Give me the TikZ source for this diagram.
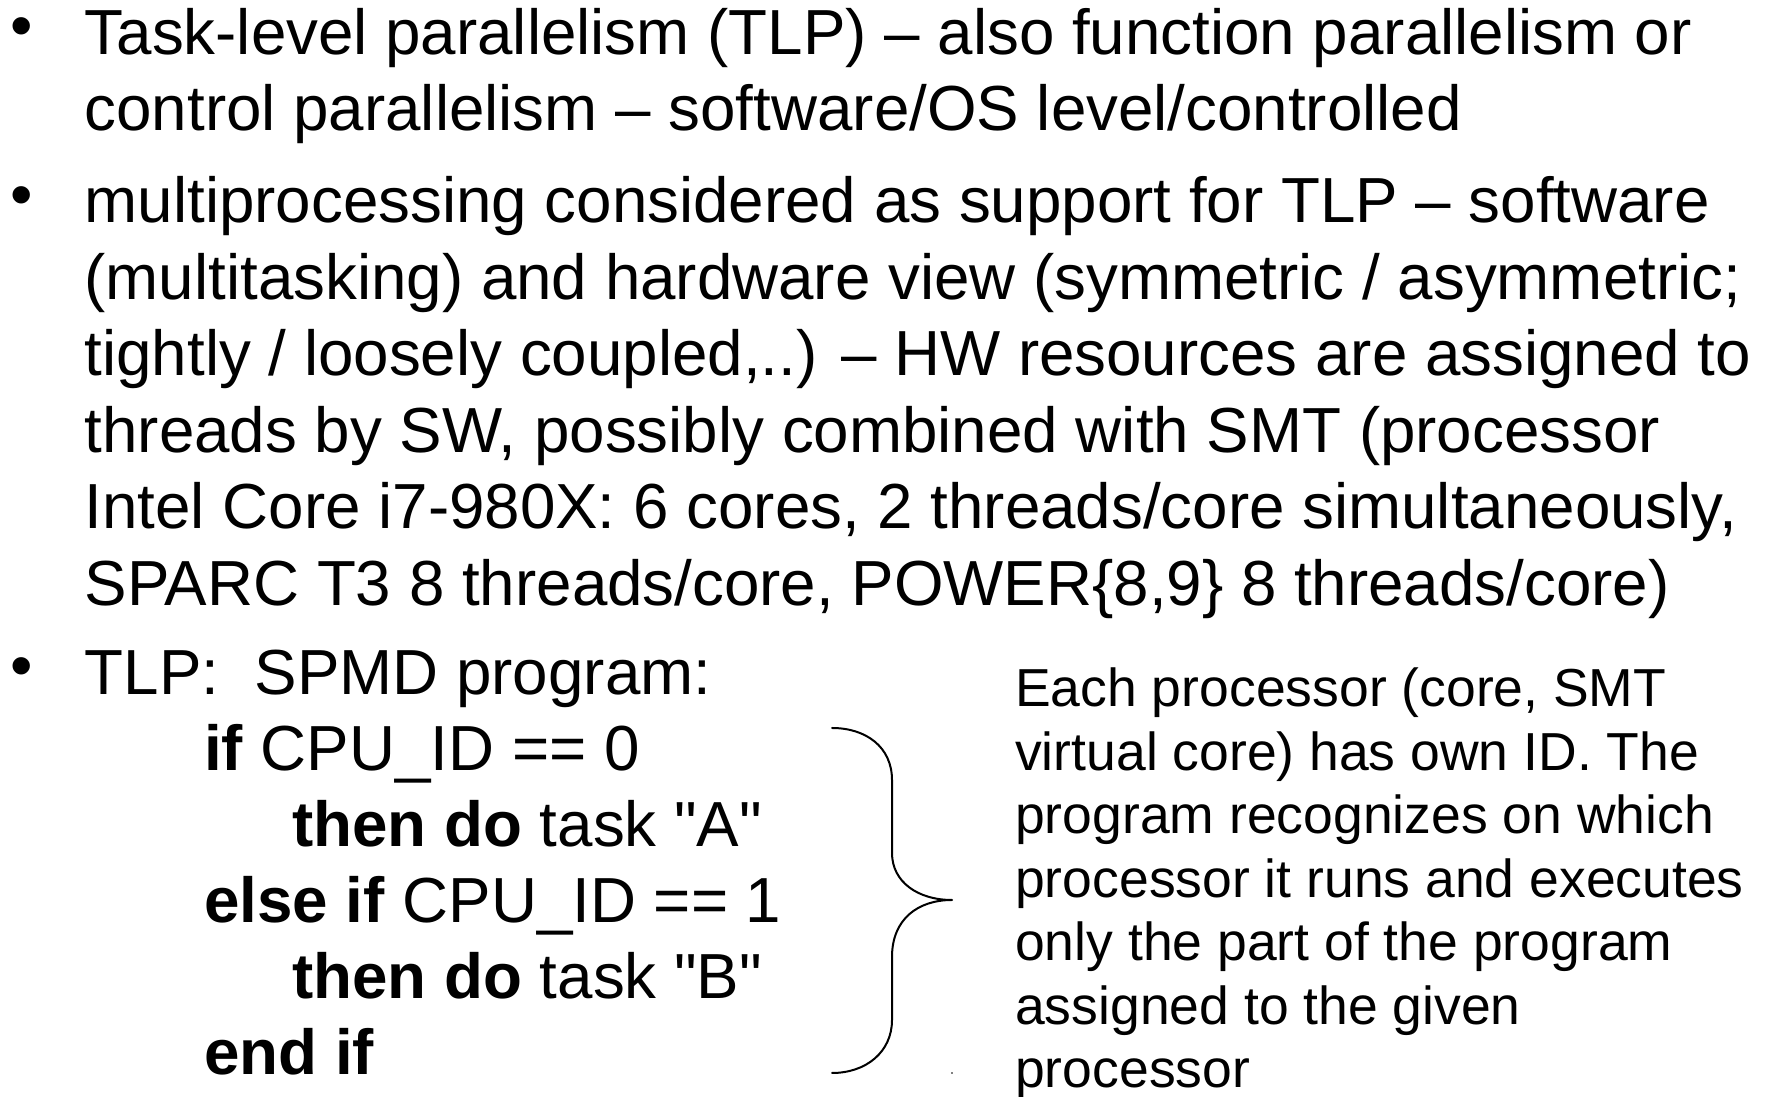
\documentclass[tikz,border=0pt]{standalone}
\usepackage{fontspec}
\setmainfont{Liberation Sans}[Ligatures=TeXOff]
\begin{document}
\begin{tikzpicture}[x=1pt,y=1pt,
  body/.style={anchor=base west, inner sep=0pt, font=\fontsize{63.7}{76}\selectfont},
  note/.style={anchor=base west, inner sep=0pt, font=\fontsize{53.5}{63}\selectfont},
  bul/.style={anchor=base west, inner sep=0pt, font=\fontsize{64}{76}\selectfont},
  brace/.style={line width=2pt, line cap=round, line join=round}]
\useasboundingbox (0,0) rectangle (1765,1097);

% first bullet
\node[bul]  (b1)  at (10,1097-48) {•};
\node[body] (t11) at (84.5,1097-55) {Task-level parallelism (TLP) – also function parallelism or};
\node[body] (t12) at (84.5,1097-131) {control parallelism – software/OS level/controlled};

% second bullet
\node[bul]  (b2)  at (10,1097-217) {•};
\node[body] (t21) at (84.5,1097-223) {multiprocessing considered as support for TLP – software};
\node[body] (t22) at (84.5,1097-299.5) {(multitasking) and hardware view (symmetric / asymmetric;};
\node[body] (t23) at (84.5,1097-376) {tightly / loosely coupled,..) – HW resources are assigned to};
\node[body] (t24) at (84.5,1097-452.5) {threads by SW, possibly combined with SMT (processor};
\node[body] (t25) at (84.5,1097-529) {Intel Core i7-980X: 6 cores, 2 threads/core simultaneously,};
\node[body] (t26) at (84.5,1097-605.5) {SPARC T3 8 threads/core, POWER\{8,9\} 8 threads/core)};

% third bullet with the SPMD program
\node[bul]  (b3)  at (10,1097-688) {•};
\node[body] (t31) at (84.5,1097-695) {TLP:\ \ SPMD program:};
\node[body] (c1)  at (204,1097-771) {\textbf{if} CPU\_ID == 0};
\node[body] (c2)  at (292,1097-847) {\textbf{then do} task "A"};
\node[body] (c3)  at (204,1097-923) {\textbf{else if} CPU\_ID == 1};
\node[body] (c4)  at (292,1097-999) {\textbf{then do} task "B"};
\node[body] (c5)  at (204,1097-1075) {\textbf{end if}};

% curly brace grouping the program
\coordinate (brtop) at (832,369);
\coordinate (brtip) at (952,197);
\coordinate (brbot) at (832,24);
\draw[brace] (brtop) .. controls (866,369) and (892,350) .. (892,317)
  -- (892,244) .. controls (892,215) and (918,197) .. (brtip)
  .. controls (918,197) and (892,178) .. (892,140)
  -- (892,77) .. controls (892,45) and (866,24) .. (brbot);
\fill (952,24) circle (0.8);

% explanation beside the brace
\node[note] (n1) at (1015,1097-707) {Each processor (core, SMT};
\node[note] (n2) at (1015,1097-771) {virtual core) has own ID. The};
\node[note] (n3) at (1015,1097-834) {program recognizes on which};
\node[note] (n4) at (1015,1097-898) {processor it runs and executes};
\node[note] (n5) at (1015,1097-961) {only the part of the program};
\node[note] (n6) at (1015,1097-1025) {assigned to the given};
\node[note] (n7) at (1015,1097-1088) {processor};
\end{tikzpicture}
\end{document}
